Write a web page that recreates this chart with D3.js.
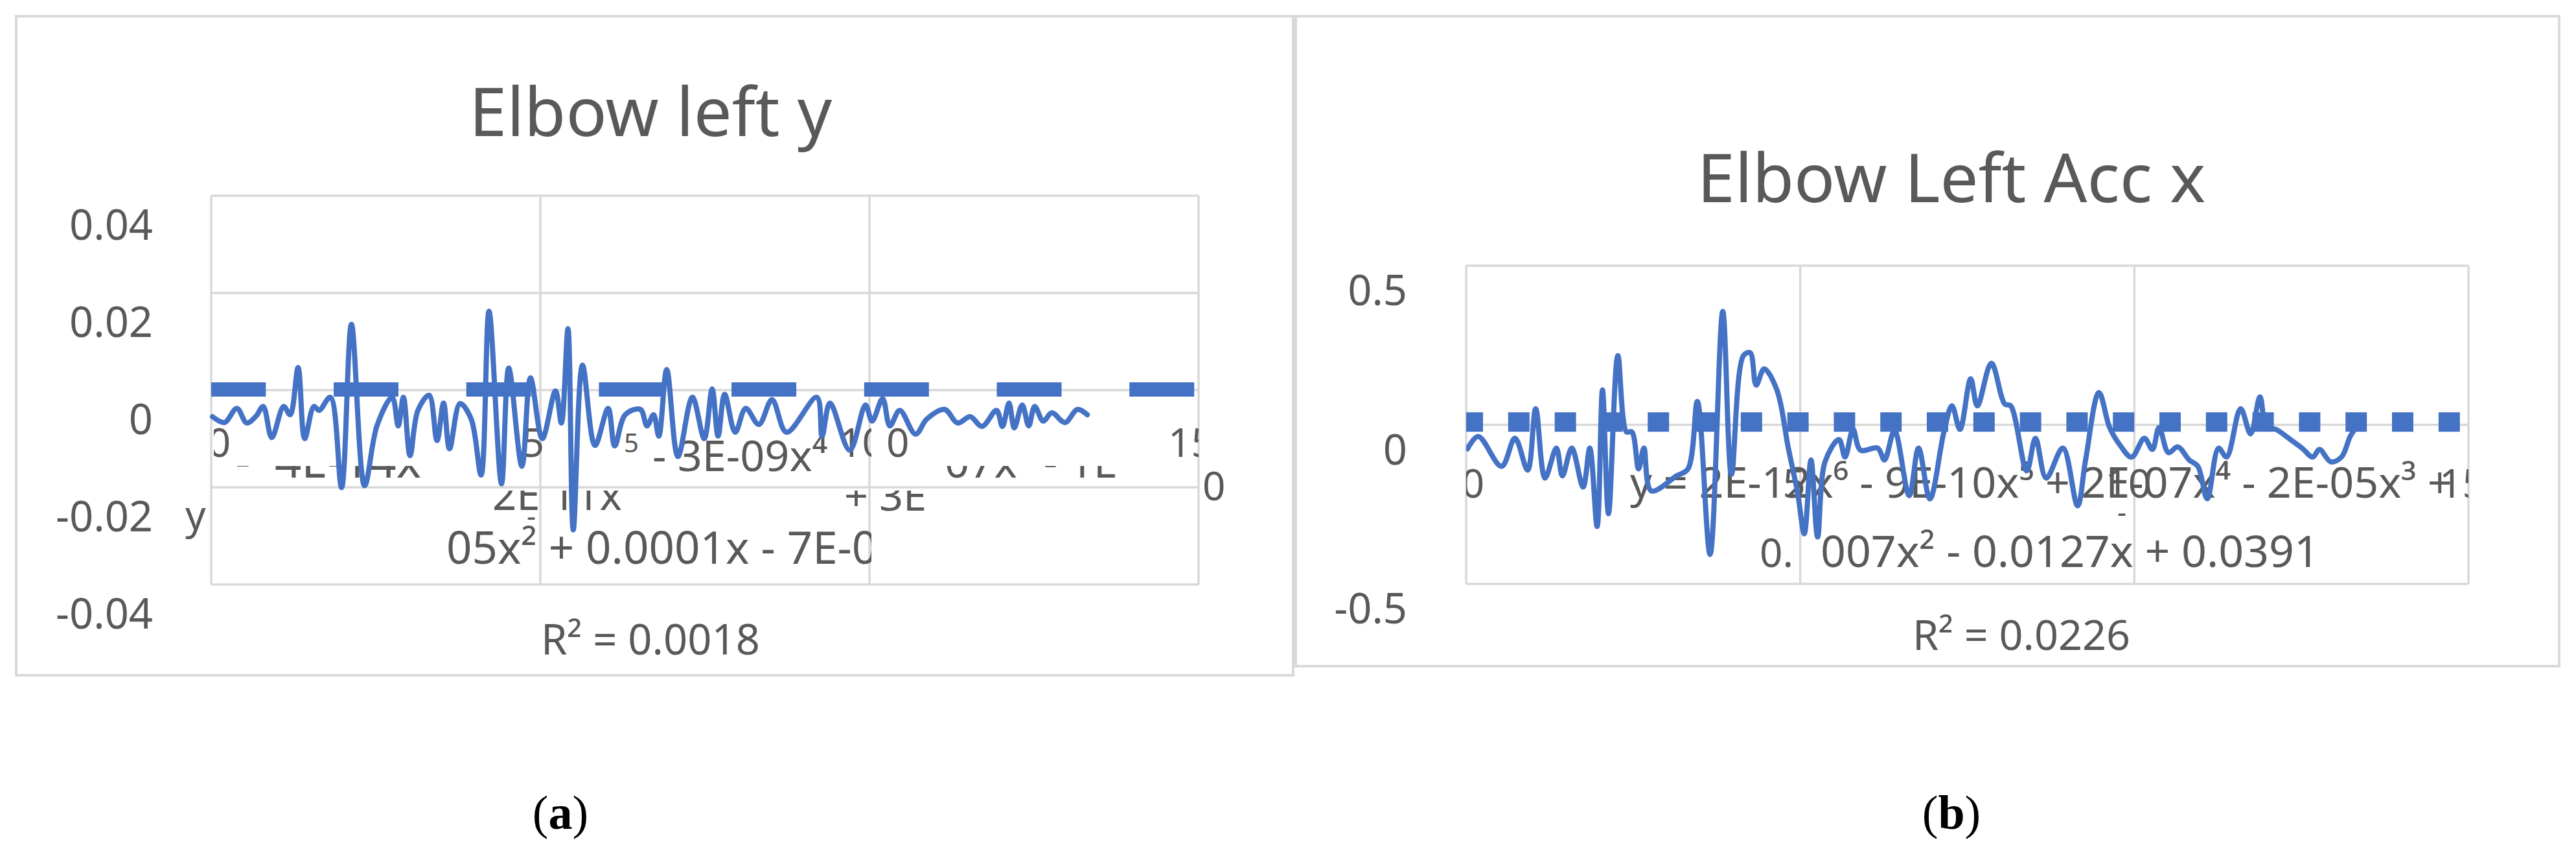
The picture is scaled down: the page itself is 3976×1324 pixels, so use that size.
<!DOCTYPE html>
<html><head><meta charset="utf-8">
<script src="https://cdn.jsdelivr.net/npm/d3@7"></script>
<style>html,body{margin:0;padding:0;background:#fff;} svg{display:block;} text{white-space:pre;}</style>
</head><body>
<svg id="c" width="3976" height="1324"></svg>
<script>
// ---------- DATA ----------
const titleLeft = "Elbow left y";
const titleRight = "Elbow Left Acc x";
const xTicks = [0, 5, 10, 15];
const xTickLabels = ["0", "5", "10", "15"];
const yTicksLeft = [-0.04, -0.02, 0, 0.02, 0.04];
const yTickLabelsLeft = ["-0.04", "-0.02", "0", "0.02", "0.04"];
const yTicksRight = [-0.5, 0, 0.5];
const yTickLabelsRight = ["-0.5", "0", "0.5"];

const leftX = [
 0.02,0.20,0.39,0.54,0.68,0.79,0.92,1.10,1.20,1.32,
 1.42,1.56,1.64,1.81,1.98,2.13,2.33,2.52,2.75,2.84,
 2.92,3.02,3.14,3.31,3.43,3.53,3.62,3.78,3.95,4.10,
 4.22,4.41,4.52,4.72,4.85,5.03,5.23,5.32,5.42,5.50,
 5.64,5.83,6.03,6.13,6.29,6.52,6.62,6.72,6.80,6.92,
 7.09,7.31,7.49,7.61,7.70,7.80,7.96,8.12,8.32,8.52,
 8.74,9.20,9.28,9.40,9.70,9.94,10.04,10.20,10.31,10.46,
 10.70,10.87,11.14,11.34,11.53,11.71,11.93,12.02,12.12,12.20,
 12.32,12.42,12.51,12.64,12.77,12.97,13.16,13.31];
const leftY = [
 0.0008,-0.0004,0.0025,-0.0005,0.0009,0.0029,-0.0035,0.0029,0.0012,0.0109,
 -0.0037,0.0029,0.0021,0.0048,-0.0138,0.0198,-0.0134,-0.0010,0.0048,-0.0011,
 0.0048,-0.0072,0.0021,0.0052,-0.0041,0.0036,-0.0058,0.0035,0.0003,-0.0112,
 0.0225,-0.0130,0.0108,-0.0094,0.0088,-0.0037,0.0061,-0.0005,0.0189,-0.0225,
 0.0114,-0.0051,0.0025,-0.0052,0.0012,0.0023,-0.0011,0.0012,-0.0032,0.0105,
 -0.0074,0.0048,-0.0037,0.0065,-0.0032,0.0054,-0.0024,0.0025,-0.0008,0.0043,
 -0.0024,0.0048,-0.0032,0.0036,-0.0061,0.0032,-0.0001,0.0045,-0.0011,0.0021,
 -0.0028,0.0003,0.0023,-0.0005,0.0008,-0.0012,0.0021,-0.0012,0.0036,-0.0015,
 0.0032,-0.0011,0.0029,-0.0001,0.0016,-0.0004,0.0023,0.0012];
const trendLeftX = [0, 15];
const trendLeftY = [0.0064, 0.0064];

const rightX = [
 0.02,0.18,0.53,0.73,0.92,1.04,1.18,1.35,1.44,1.58,
 1.75,1.85,1.96,2.04,2.13,2.27,2.40,2.48,2.58,2.66,
 2.77,3.15,3.32,3.46,3.65,3.84,3.97,4.15,4.25,4.34,
 4.46,4.65,4.82,4.96,5.06,5.16,5.26,5.37,5.58,5.67,
 5.79,5.90,6.16,6.26,6.41,6.63,6.77,6.94,7.15,7.27,
 7.39,7.55,7.65,7.86,8.06,8.15,8.39,8.52,8.68,8.93,
 9.15,9.27,9.47,9.63,9.79,9.96,10.15,10.27,10.37,10.51,
 10.65,10.82,10.95,11.09,11.26,11.38,11.59,11.74,11.88,11.98,
 12.12,12.31,12.51,12.67,12.77,12.94,13.10,13.23,13.30];
const rightY = [
 0.006,0.045,-0.049,0.039,-0.061,0.132,-0.086,0.008,-0.079,0.008,
 -0.114,0.008,-0.238,0.191,-0.198,0.299,0.059,0.059,-0.057,0.008,
 -0.126,-0.079,-0.057,0.155,-0.326,0.438,-0.075,0.299,0.308,0.206,
 0.257,0.191,0.010,-0.132,-0.261,-0.029,-0.271,-0.035,0.035,-0.020,
 0.067,0.002,0.008,-0.029,0.063,-0.141,0.008,-0.151,0.059,0.141,
 0.067,0.226,0.141,0.275,0.147,0.141,-0.063,0.039,-0.086,0.008,
 -0.173,-0.029,0.183,0.073,0.016,-0.020,0.039,0.004,0.073,-0.006,
 0.012,-0.029,-0.049,-0.151,0.008,-0.020,0.132,0.053,0.169,0.073,
 0.067,0.039,0.008,-0.020,0.004,-0.035,-0.020,0.045,0.067];
const trendRightX = [0, 15];
const trendRightY = [0.090, 0.090];

const eqLeft = {
  r2: "R² = 0.0018",
  partA: "- 3E-09x⁴", supA: "5",
  partB: "05x² + 0.0001x - 7E-05",
  partC: "2E 11x", partD: "+ 3E",
  partE: "-  4E-14x", partF: "07x³ - 1E",
  y: "y", dash: "-", zeroA: "0", zeroB: "0"
};
const eqRight = {
  r2: "R² = 0.0226",
  line1: "y = 2E-12x⁶ - 9E-10x⁵ + 2E-07x⁴ - 2E-05x³ +",
  line2a: "0.", line2b: "007x² - 0.0127x + 0.0391",
  dash: "-"
};
const captions = ["a", "b"];

// ---------- DRAW ----------
const FONT = "'Noto Sans','Open Sans',sans-serif";
const TXT = "#595959", GRID = "#d9d9d9", BLUE = "#4472C4";
const svg = d3.select("#c");
svg.append("rect").attr("width",3976).attr("height",1324).attr("fill","#fff");
const defs = svg.append("defs");
function clip(id, rects){ const c = defs.append("clipPath").attr("id",id);
  rects.forEach(r=>c.append("rect").attr("x",r[0]).attr("y",r[1]).attr("width",r[2]).attr("height",r[3])); }
clip("cXL", [[330,0,1015,1324],[1380,0,470,1324]]);
clip("cStrip", [[0,719,3976,22]]);
clip("cBelow", [[0,757,3976,300]]);
clip("cEqL", [[0,0,1345,1324]]);
clip("cXR", [[2263,0,1547,1324]]);
clip("cPlotR", [[2263,380,1547,560]]);

function txt(g, str, x, y, size, anchor, width){
  const t = g.append("text").attr("x",x).attr("y",y).attr("font-size",size)
    .attr("font-family",FONT).attr("fill",TXT).attr("text-anchor",anchor||"start").text(str);
  if (width){ const L = t.node().getComputedTextLength(); if (L>0) t.attr("font-size", size*width/L); }
  return t;
}

function panel(cfg){
  const g = svg.append("g");
  const x = d3.scaleLinear([0,15], cfg.xr);
  const y = d3.scaleLinear(cfg.yd, cfg.yr);
  const sh = cfg.shift;
  g.append("rect").attr("x",cfg.frame[0]).attr("y",cfg.frame[1]).attr("width",cfg.frame[2]).attr("height",cfg.frame[3])
    .attr("fill","none").attr("stroke",GRID).attr("stroke-width",4);
  const top = y(cfg.yd[1])+sh, bot = y(cfg.yd[0])+sh;
  g.selectAll(null).data(cfg.yTicks).enter().append("line")
    .attr("x1",x(0)).attr("x2",x(15)).attr("y1",d=>y(d)+sh).attr("y2",d=>y(d)+sh)
    .attr("stroke",GRID).attr("stroke-width",3.5);
  g.selectAll(null).data(xTicks).enter().append("line")
    .attr("x1",d=>x(d)).attr("x2",d=>x(d)).attr("y1",top).attr("y2",bot)
    .attr("stroke",GRID).attr("stroke-width",3.5);
  const ya = g.append("g").attr("transform",`translate(${cfg.yLabelX},0)`)
    .call(d3.axisLeft(y).tickValues(cfg.yTicks).tickFormat((d,i)=>cfg.yLabels[i]).tickSize(0).tickPadding(0));
  ya.select(".domain").remove();
  ya.attr("font-size",65).attr("font-family",FONT).attr("color",TXT);
  const xwrap = g.append("g").attr("clip-path",`url(#${cfg.xclip})`);
  const xa = xwrap.append("g").attr("transform",`translate(0,${cfg.xLabelY})`)
    .call(d3.axisBottom(x).tickValues(xTicks).tickFormat((d,i)=>xTickLabels[i]).tickSize(0).tickPadding(0));
  xa.select(".domain").remove();
  xa.attr("font-size",62).attr("font-family",FONT).attr("color",TXT);
  xa.selectAll("text").attr("y",0).attr("dy",0).attr("dx",d=>d===0?cfg.dx0:cfg.dx);
  txt(g, cfg.title, cfg.titlePos[0], cfg.titlePos[1], 100, "middle", cfg.titlePos[2]);
  return {g, x, y};
}

// Left panel
const L = panel({xr:[326,1850], yd:[-0.04,0.04], yr:[949,349], shift:-47, frame:[25,25,1971,1017],
  yTicks:yTicksLeft, yLabels:yTickLabelsLeft, yLabelX:236, xLabelY:705, xclip:"cXL", dx0:12, dx:-12,
  title:titleLeft, titlePos:[1004,210,560]});
const gl = L.g;
txt(gl, eqLeft.r2, 1004, 1010, 62, "middle", 338);
txt(gl, eqLeft.partA, 1007, 727, 62, "start", 270);
txt(gl, eqLeft.supA, 963, 698, 40, "start");
txt(gl, eqLeft.partB, 689, 870, 62, "start", 705).attr("clip-path","url(#cEqL)");
txt(gl, eqLeft.partC, 760, 787, 62, "start", 200).attr("clip-path","url(#cBelow)");
txt(gl, eqLeft.partD, 1303, 788, 62, "start", 127).attr("clip-path","url(#cBelow)");
txt(gl, eqLeft.partE, 363, 737, 62, "start", 287).attr("clip-path","url(#cStrip)");
txt(gl, eqLeft.partF, 1458, 737, 62, "start", 267).attr("clip-path","url(#cStrip)");
txt(gl, eqLeft.y, 286, 817, 62, "start");
txt(gl, eqLeft.dash, 813, 812, 44, "start");
txt(gl, eqLeft.zeroA, 1368, 705, 62, "start");
txt(gl, eqLeft.zeroB, 1856, 772, 62, "start");

// Right panel
const R = panel({xr:[2263,3810], yd:[-0.5,0.5], yr:[941,450], shift:-40, frame:[2000,25,1950,1003],
  yTicks:yTicksRight, yLabels:yTickLabelsRight, yLabelX:2172, xLabelY:768, xclip:"cXR", dx0:10, dx:-10,
  title:titleRight, titlePos:[3012,312,785]});
const gr = R.g;
txt(gr, eqRight.r2, 3120, 1003, 62, "middle", 336);
txt(gr, eqRight.line1, 2516, 768, 62, "start", 1269);
txt(gr, eqRight.line2a, 2716, 875, 62, "start");
txt(gr, eqRight.line2b, 2810, 875, 62, "start", 770);
txt(gr, eqRight.dash, 3268, 806, 44, "start");

// trendlines and series
function series(p, xs, ys, trX, trY, tw, dash, off, clipId){
  const line = d3.line().x(d=>p.x(d[0])).y(d=>p.y(d[1]));
  p.g.append("path").datum(d3.zip(trX, trY)).attr("d", line)
    .attr("fill","none").attr("stroke",BLUE).attr("stroke-width",tw)
    .attr("stroke-dasharray",dash).attr("stroke-dashoffset",off);
  const sl = d3.line().x(d=>p.x(d[0])).y(d=>p.y(d[1])).curve(d3.curveCatmullRom.alpha(0.5));
  const path = p.g.append("path").datum(d3.zip(xs, ys)).attr("d", sl)
    .attr("fill","none").attr("stroke",BLUE).attr("stroke-width",8)
    .attr("stroke-linejoin","round").attr("stroke-linecap","round");
  if (clipId) path.attr("clip-path",`url(#${clipId})`);
}
series(L, leftX, leftY, trendLeftX, trendLeftY, 22, "100 104.7", 15.7);
series(R, rightX, rightY, trendRightX, trendRightY, 30, "33 38.8", 7, "cPlotR");

// captions
const capX = [865, 3012];
captions.forEach((c,i)=>{
  const t = svg.append("text").attr("x",capX[i]).attr("y",1279).attr("text-anchor","middle")
    .attr("font-family","'Liberation Serif','DejaVu Serif',serif").attr("font-size",74).attr("fill","#000");
  t.append("tspan").text("(");
  t.append("tspan").attr("font-weight","bold").text(c);
  t.append("tspan").text(")");
});
</script>
</body></html>
